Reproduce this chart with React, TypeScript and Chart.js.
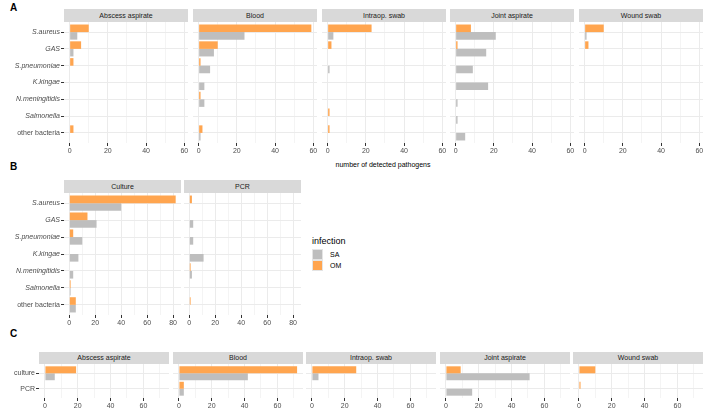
import { useEffect, useRef } from "react";
import { Chart, registerables } from "chart.js";
Chart.register(...registerables);

// ---------- data ----------
const pathogens = ["S.aureus", "GAS", "S.pneumoniae", "K.kingae", "N.meningitidis", "Salmonella", "other bacteria"];
const specimens = ["Abscess aspirate", "Blood", "Intraop. swab", "Joint aspirate", "Wound swab"];
const methods = ["Culture", "PCR"];
const methodCats = ["culture", "PCR"];
const infections = ["SA", "OM"];

// Panel A: pathogens by specimen (OM / SA)
const abscessOM = [10, 6, 2, 0, 0, 0, 2];
const abscessSA = [4, 2, 0, 0, 0, 0, 0];
const bloodOM = [59, 10, 1, 0, 1, 0, 2];
const bloodSA = [24, 8, 6, 3, 3, 0, 1];
const intraopOM = [23, 2, 0, 0, 0, 1, 1];
const intraopSA = [3, 0, 1, 0, 0, 0, 0];
const jointOM = [8, 1, 0, 0, 0, 0, 0];
const jointSA = [21, 16, 9, 17, 1, 1, 5];
const woundOM = [10, 2, 0, 0, 0, 0, 0];
const woundSA = [1, 0, 0, 0, 0, 0, 0];

// Panel B: pathogens by method
const cultureOM = [82, 14, 3, 0, 0, 1, 5];
const cultureSA = [40, 21, 10, 7, 3, 1, 5];
const pcrOM = [2, 0, 0, 0, 1, 0, 1];
const pcrSA = [0, 3, 3, 11, 2, 0, 0];

// Panel C: method by specimen [culture, PCR]
const cAbscessOM = [19, 0];
const cAbscessSA = [6, 0];
const cBloodOM = [72, 3];
const cBloodSA = [42, 3];
const cIntraopOM = [27, 0];
const cIntraopSA = [4, 0];
const cJointOM = [9, 0];
const cJointSA = [51, 16];
const cWoundOM = [10, 1];
const cWoundSA = [0, 0];

const ticksA = [0, 10, 20, 30, 40, 50, 60];
const ticksB = [0, 10, 20, 30, 40, 50, 60, 70, 80];
const ticksC = [0, 10, 20, 30, 40, 50, 60, 70];

// ---------- style ----------
const FONT = "'Liberation Sans', Arial, Helvetica, sans-serif";
const OM_COLOR = "#FFA54F";
const SA_COLOR = "#BEBEBE";

type FacetProps = {
  left: number; top: number; width: number; height: number;
  labelW: number; axisH: number;
  cats: string[]; om: number[]; sa: number[];
  xMin: number; xMax: number; ticks: number[]; major: number; showY: boolean;
};

function Facet(p: FacetProps) {
  const ref = useRef<HTMLCanvasElement>(null);
  useEffect(() => {
    const n = p.cats.length;
    const chart = new Chart(ref.current!, {
      type: "bar",
      data: {
        datasets: [
          {
            label: "OM",
            data: p.om.map((v, i) => ({ x: v, y: i })),
            backgroundColor: OM_COLOR,
            borderWidth: 0,
            barPercentage: 1,
            categoryPercentage: 0.9,
          },
          {
            label: "SA",
            data: p.sa.map((v, i) => ({ x: v, y: i })),
            backgroundColor: SA_COLOR,
            borderWidth: 0,
            barPercentage: 1,
            categoryPercentage: 0.9,
          },
        ],
      } as any,
      options: {
        indexAxis: "y",
        animation: false,
        responsive: false,
        devicePixelRatio: 1,
        layout: { padding: 0 },
        plugins: { legend: { display: false }, tooltip: { enabled: false } },
        scales: {
          x: {
            type: "linear",
            bounds: "data",
            offset: false,
            beginAtZero: false,
            min: p.xMin,
            max: p.xMax,
            position: "bottom",
            afterBuildTicks: (s: any) => { s.ticks = p.ticks.map((v) => ({ value: v })); },
            afterFit: (s: any) => { s.height = p.axisH; s.paddingLeft = 0; s.paddingRight = 0; },
            ticks: {
              autoSkip: false, maxRotation: 0, minRotation: 0, padding: 1,
              color: "#4D4D4D", font: { family: FONT, size: 7 },
              callback: (v: any) => (Number(v) % p.major === 0 ? String(v) : ""),
            },
            grid: {
              offset: false,
              color: (c: any) => (c.tick && c.tick.value % p.major === 0 ? "#EBEBEB" : "#F4F4F4"),
              lineWidth: 1,
              drawTicks: true,
              tickLength: 3,
              tickColor: (c: any) => (c.tick && c.tick.value % p.major === 0 ? "#333333" : "rgba(0,0,0,0)"),
            },
            border: { display: false },
          },
          y: {
            type: "linear",
            bounds: "data",
            offset: false,
            reverse: true,
            min: -0.6,
            max: n - 1 + 0.6,
            afterBuildTicks: (s: any) => { s.ticks = p.cats.map((_, i) => ({ value: i })); },
            afterFit: (s: any) => { s.width = p.labelW; s.paddingTop = 0; s.paddingBottom = 0; },
            ticks: {
              display: p.showY,
              padding: 1,
              color: "#4D4D4D",
              font: (c: any) => {
                const lab = p.cats[c.index] || "";
                const italic = lab !== "other bacteria" && lab !== "culture" && lab !== "PCR";
                return { family: FONT, size: 7, style: italic ? "italic" : "normal" };
              },
              callback: (v: any) => p.cats[Number(v)] ?? "",
            },
            grid: {
              offset: false,
              color: "#EBEBEB",
              lineWidth: 1,
              drawTicks: p.showY,
              tickLength: p.showY ? 3 : 0,
              tickColor: "#333333",
            },
            border: { display: false },
          },
        },
      } as any,
    });
    return () => chart.destroy();
  }, []);
  const cw = p.width + p.labelW;
  const ch = p.height + p.axisH;
  return (
    <canvas
      ref={ref}
      width={cw}
      height={ch}
      style={{ position: "absolute", left: p.left - p.labelW, top: p.top, width: cw, height: ch }}
    />
  );
}

function Strip({ left, top, width, height, text }: { left: number; top: number; width: number; height: number; text: string }) {
  return (
    <div
      style={{
        position: "absolute", left, top, width, height, background: "#D9D9D9",
        color: "#1A1A1A", fontSize: 7, lineHeight: `${height}px`, textAlign: "center",
        whiteSpace: "nowrap", fontFamily: FONT,
      }}
    >
      {text}
    </div>
  );
}

function Letter({ left, top, text }: { left: number; top: number; text: string }) {
  return (
    <div style={{ position: "absolute", left, top, fontSize: 10, lineHeight: "10px", fontWeight: "bold", fontFamily: FONT, color: "#000" }}>
      {text}
    </div>
  );
}

export default function App() {
  const aOM = [abscessOM, bloodOM, intraopOM, jointOM, woundOM];
  const aSA = [abscessSA, bloodSA, intraopSA, jointSA, woundSA];
  const bOM = [cultureOM, pcrOM];
  const bSA = [cultureSA, pcrSA];
  const cOM = [cAbscessOM, cBloodOM, cIntraopOM, cJointOM, cWoundOM];
  const cSA = [cAbscessSA, cBloodSA, cIntraopSA, cJointSA, cWoundSA];

  const maxA = Math.max(...aOM.flat(), ...aSA.flat());
  const maxB = Math.max(...bOM.flat(), ...bSA.flat());
  const maxC = Math.max(...cOM.flat(), ...cSA.flat());

  const aLefts = specimens.map((_, i) => Math.round(64 + i * 128.75));
  const bLefts = [64, 184];
  const cLefts = specimens.map((_, i) => Math.round(39 + i * 133.6));

  return (
    <div style={{ position: "absolute", left: 0, top: 0, width: 708, height: 417, background: "#fff", fontFamily: FONT, overflow: "hidden" }}>
      <Letter left={10} top={3} text="A" />
      <Letter left={10} top={162} text="B" />
      <Letter left={10} top={329} text="C" />

      {specimens.map((s, i) => (
        <Strip key={"sa" + i} left={aLefts[i]} top={9} width={124} height={13} text={s} />
      ))}
      {specimens.map((s, i) => (
        <Facet
          key={"fa" + i}
          left={aLefts[i]} top={22} width={124} height={121}
          labelW={i === 0 ? 64 : 0} axisH={14}
          cats={pathogens} om={aOM[i]} sa={aSA[i]}
          xMin={-0.05 * maxA} xMax={1.05 * maxA} ticks={ticksA} major={20} showY={i === 0}
        />
      ))}
      <div style={{ position: "absolute", left: 233, top: 160, width: 300, textAlign: "center", fontSize: 7, lineHeight: "9px", color: "#000" }}>
        number of detected pathogens
      </div>

      {methods.map((m, i) => (
        <Strip key={"sb" + i} left={bLefts[i]} top={180} width={117} height={13} text={m} />
      ))}
      {methods.map((m, i) => (
        <Facet
          key={"fb" + i}
          left={bLefts[i]} top={193} width={117} height={122}
          labelW={i === 0 ? 64 : 0} axisH={14}
          cats={pathogens} om={bOM[i]} sa={bSA[i]}
          xMin={-0.05 * maxB} xMax={1.05 * maxB} ticks={ticksB} major={20} showY={i === 0}
        />
      ))}

      {/* legend */}
      <div style={{ position: "absolute", left: 312, top: 236, fontSize: 9, lineHeight: "10px", color: "#000" }}>infection</div>
      {infections.map((inf, i) => (
        <div key={"lg" + i}>
          <div style={{
            position: "absolute", left: 312, top: 249 + i * 11, width: 11, height: 11, boxSizing: "border-box",
            background: inf === "SA" ? SA_COLOR : OM_COLOR, border: "0.5px solid #E4E4E4",
          }} />
          <div style={{ position: "absolute", left: 330, top: 250 + i * 11, fontSize: 7, lineHeight: "9px", color: "#000" }}>{inf}</div>
        </div>
      ))}

      {specimens.map((s, i) => (
        <Strip key={"sc" + i} left={cLefts[i]} top={352} width={130} height={12} text={s} />
      ))}
      {specimens.map((s, i) => (
        <Facet
          key={"fc" + i}
          left={cLefts[i]} top={364} width={130} height={34}
          labelW={i === 0 ? 39 : 0} axisH={14}
          cats={methodCats} om={cOM[i]} sa={cSA[i]}
          xMin={-0.05 * maxC} xMax={1.05 * maxC} ticks={ticksC} major={20} showY={i === 0}
        />
      ))}
    </div>
  );
}
